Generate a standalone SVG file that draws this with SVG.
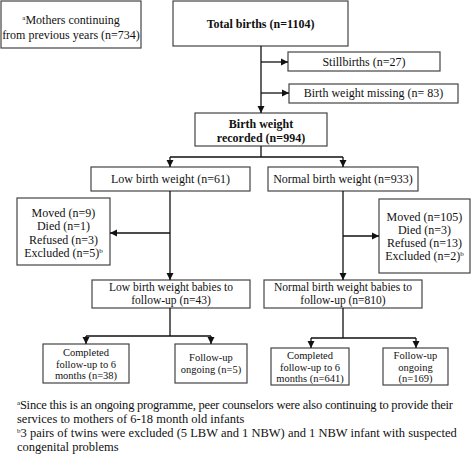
<svg xmlns="http://www.w3.org/2000/svg" width="473" height="456" viewBox="0 0 473 456">
<style>
.box{fill:#fff;stroke:#444;stroke-width:1.2}
.t{font-family:"Liberation Serif","Times New Roman",serif;font-size:12px;fill:#111;text-anchor:middle}
.s{font-size:11.5px}
.xs{font-size:10.5px}
.b{font-weight:bold}
.fn{font-family:"Liberation Serif","Times New Roman",serif;font-size:12.5px;fill:#111}
.sup{font-size:7px}
.ln{fill:none;stroke:#111;stroke-width:1.3}
</style>
<defs>
<marker id="ah" markerWidth="8" markerHeight="8" refX="7" refY="4" orient="auto" markerUnits="userSpaceOnUse">
<path d="M0,0.5 L7,4 L0,7.5 Z" fill="#111"/>
</marker>
</defs>
<rect width="473" height="456" fill="#fff"/>
<g id="mothers"><rect class="box" x="1" y="1" width="140" height="47"/>
<text class="t" x="71" y="24"><tspan class="sup" dy="-4">a</tspan><tspan dy="4">Mothers continuing</tspan></text>
<text class="t" x="71" y="39">from previous years (n=734)</text></g>
<g id="total"><rect class="box" x="173" y="1" width="175" height="45"/>
<text class="t b" x="260.5" y="28">Total births (n=1104)</text></g>
<g id="still"><rect class="box" x="288" y="52" width="152" height="19"/>
<text class="t" x="364" y="66">Stillbirths (n=27)</text></g>
<g id="missing"><rect class="box" x="289" y="84" width="169" height="19"/>
<text class="t" x="373.5" y="97">Birth weight missing (n= 83)</text></g>
<g id="recorded"><rect class="box" x="195" y="113" width="132" height="33"/>
<text class="t b" x="261" y="128">Birth weight</text>
<text class="t b" x="261" y="142">recorded (n=994)</text></g>
<g id="lbw"><rect class="box" x="91" y="167" width="159" height="24"/>
<text class="t" x="170.5" y="183">Low birth weight (n=61)</text></g>
<g id="nbw"><rect class="box" x="268" y="167" width="150" height="24"/>
<text class="t" x="343" y="183">Normal birth weight (n=933)</text></g>
<g id="lossL"><rect class="box" x="17" y="198" width="93" height="67"/>
<text class="t" x="63.5" y="217">Moved (n=9)</text>
<text class="t" x="63.5" y="230">Died (n=1)</text>
<text class="t" x="63.5" y="244">Refused (n=3)</text>
<text class="t" x="63.5" y="257">Excluded (n=5)<tspan class="sup" dy="-4">b</tspan></text></g>
<g id="lossR"><rect class="box" x="379" y="199" width="91" height="74"/>
<text class="t" x="424.5" y="221">Moved (n=105)</text>
<text class="t" x="424.5" y="234">Died (n=3)</text>
<text class="t" x="424.5" y="247">Refused (n=13)</text>
<text class="t" x="424.5" y="260">Excluded (n=2)<tspan class="sup" dy="-4">b</tspan></text></g>
<g id="lbwfu"><rect class="box" x="92" y="280" width="158" height="28"/>
<text class="t s" x="171" y="291">Low birth weight babies to</text>
<text class="t s" x="171" y="304">follow-up (n=43)</text></g>
<g id="nbwfu"><rect class="box" x="264" y="280" width="158" height="28"/>
<text class="t s" x="343" y="291">Normal birth weight babies to</text>
<text class="t s" x="343" y="304">follow-up (n=810)</text></g>
<g id="lcomp"><rect class="box" x="43" y="344" width="86" height="39"/>
<text class="t xs" x="86" y="356">Completed</text>
<text class="t xs" x="86" y="367.5">follow-up to 6</text>
<text class="t xs" x="86" y="379">months (n=38)</text></g>
<g id="lon"><rect class="box" x="175" y="344" width="72" height="39"/>
<text class="t xs" x="211" y="361">Follow-up</text>
<text class="t xs" x="211" y="372.5">ongoing (n=5)</text></g>
<g id="ncomp"><rect class="box" x="271" y="348" width="78" height="37"/>
<text class="t xs" x="310" y="359">Completed</text>
<text class="t xs" x="310" y="370.5">follow-up to 6</text>
<text class="t xs" x="310" y="382">months (n=641)</text></g>
<g id="non"><rect class="box" x="383" y="348" width="65" height="37"/>
<text class="t xs" x="415.5" y="359">Follow-up</text>
<text class="t xs" x="415.5" y="370.5">ongoing</text>
<text class="t xs" x="415.5" y="382">(n=169)</text></g>
<g id="connectors">
<path class="ln" d="M261,46 V113" marker-end="url(#ah)"/>
<path class="ln" d="M261,62 H288" marker-end="url(#ah)"/>
<path class="ln" d="M261,93 H289" marker-end="url(#ah)"/>
<path class="ln" d="M261,146 V157 M170,157 H343"/>
<path class="ln" d="M170,157 V167" marker-end="url(#ah)"/>
<path class="ln" d="M343,157 V167" marker-end="url(#ah)"/>
<path class="ln" d="M170,191 V280" marker-end="url(#ah)"/>
<path class="ln" d="M170,233 H110" marker-end="url(#ah)"/>
<path class="ln" d="M343,191 V280" marker-end="url(#ah)"/>
<path class="ln" d="M343,236 H379" marker-end="url(#ah)"/>
<path class="ln" d="M170,308 V336 M86,336 H211"/>
<path class="ln" d="M86,336 V344" marker-end="url(#ah)"/>
<path class="ln" d="M211,336 V344" marker-end="url(#ah)"/>
<path class="ln" d="M343,308 V338 M311,338 H416"/>
<path class="ln" d="M311,338 V348" marker-end="url(#ah)"/>
<path class="ln" d="M416,338 V348" marker-end="url(#ah)"/>
</g>
<g id="footnotes">
<text class="fn" x="17" y="409" textLength="436" lengthAdjust="spacing"><tspan class="sup" dy="-4">a</tspan><tspan dy="4">Since this is an ongoing programme, peer counselors were also continuing to provide their</tspan></text>
<text class="fn" x="17" y="423">services to mothers of 6-18 month old infants</text>
<text class="fn" x="17" y="437"><tspan class="sup" dy="-4">b</tspan><tspan dy="4">3 pairs of twins were excluded (5 LBW and 1 NBW) and 1 NBW infant with suspected</tspan></text>
<text class="fn" x="17" y="451">congenital problems</text>
</g>
</svg>
